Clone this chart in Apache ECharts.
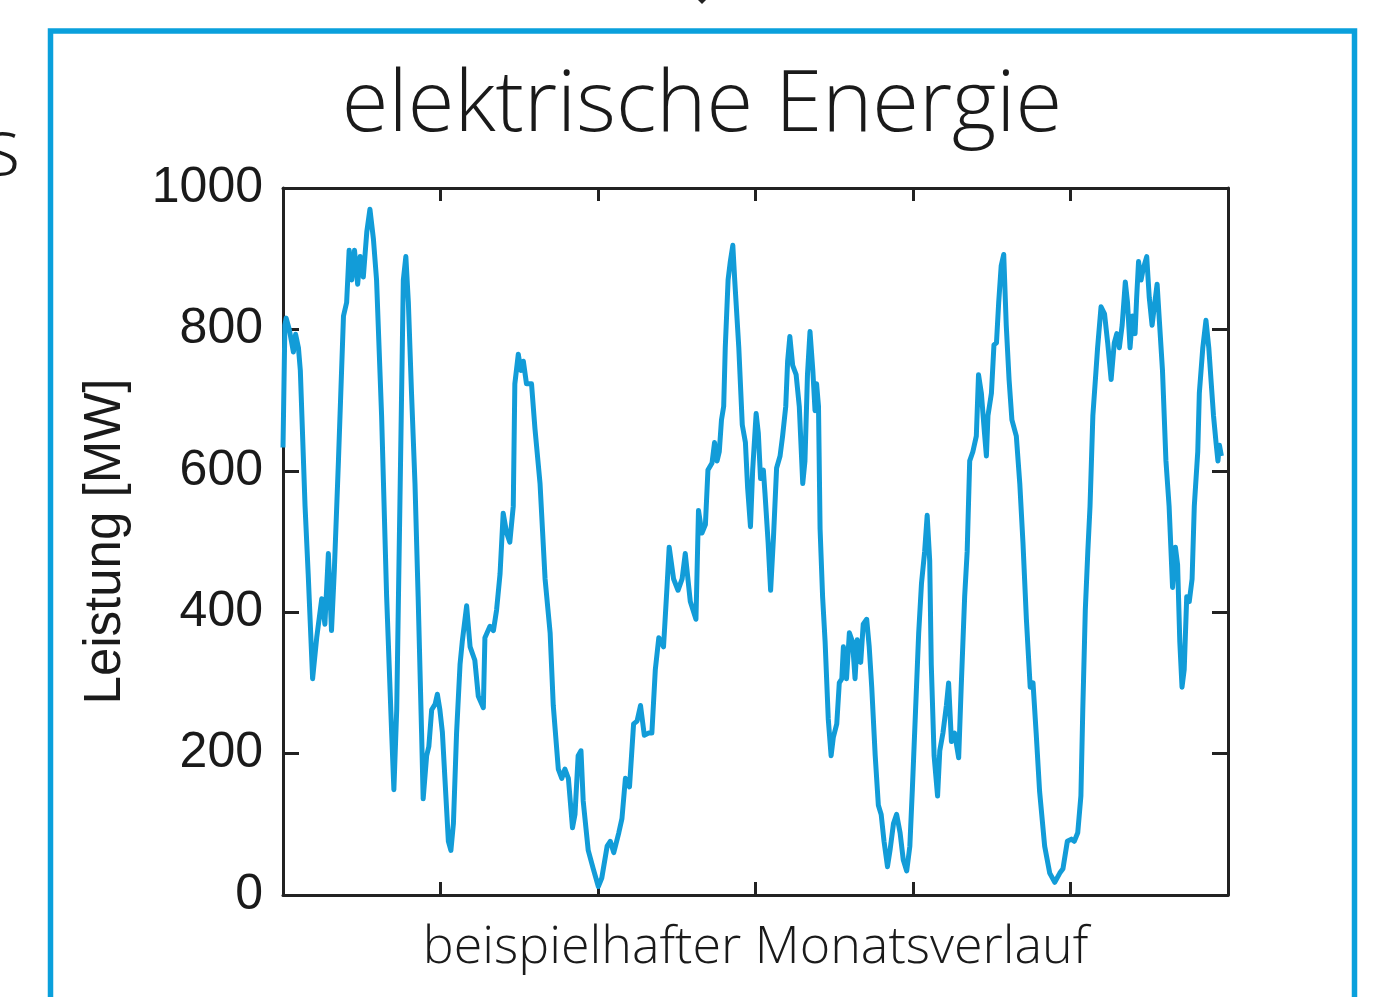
<!DOCTYPE html>
<html>
<head>
<meta charset="utf-8">
<title>elektrische Energie</title>
<script src="https://cdn.jsdelivr.net/npm/echarts@6/dist/echarts.min.js"></script>
<style>
  html, body { margin: 0; padding: 0; background: #ffffff; overflow: hidden; }
  #chart { width: 1382px; height: 997px; }
</style>
</head>
<body>
<div id="chart"></div>
<script>
// Tage im Monat (x) und Leistung in MW (y)
const days = [
  0, 0.06, 0.1, 0.2, 0.33, 0.4, 0.49, 0.55, 0.7, 0.8, 0.94, 1.07, 1.23, 1.33, 1.44, 1.54, 1.63, 1.76, 1.92,
  2.02, 2.1, 2.18, 2.27, 2.37, 2.45, 2.55, 2.66, 2.76, 2.87, 2.97, 3.13, 3.29, 3.45, 3.52, 3.61, 3.71, 3.82,
  3.9, 3.98, 4.08, 4.19, 4.29, 4.4, 4.45, 4.56, 4.63, 4.72, 4.83, 4.9, 4.98, 5.06, 5.14, 5.25, 5.33, 5.41,
  5.51, 5.62, 5.69, 5.83, 5.94, 6.09, 6.2, 6.36, 6.41, 6.57, 6.68, 6.78, 6.89, 6.99, 7.1, 7.2, 7.31, 7.36,
  7.47, 7.55, 7.63, 7.73, 7.89, 8.0, 8.16, 8.32, 8.48, 8.58, 8.74, 8.85, 8.95, 9.06, 9.19, 9.27, 9.37, 9.46,
  9.53, 9.69, 9.85, 10.01, 10.12, 10.29, 10.39, 10.5, 10.66, 10.76, 10.87, 11.0, 11.13, 11.24, 11.35, 11.47,
  11.61, 11.71, 11.82, 11.93, 12.08, 12.19, 12.26, 12.4, 12.54, 12.67, 12.77, 12.93, 13.11, 13.19, 13.3,
  13.41, 13.49, 13.62, 13.7, 13.78, 13.85, 13.92, 13.99, 14.04, 14.13, 14.2, 14.28, 14.34, 14.47, 14.58,
  14.68, 14.75, 14.84, 14.91, 15.02, 15.09, 15.16, 15.25, 15.3, 15.4, 15.48, 15.57, 15.67, 15.78, 15.86,
  15.96, 16.02, 16.09, 16.18, 16.29, 16.39, 16.5, 16.57, 16.65, 16.73, 16.82, 16.89, 16.94, 17.0, 17.05,
  17.13, 17.21, 17.31, 17.4, 17.47, 17.58, 17.66, 17.74, 17.79, 17.89, 17.98, 18.08, 18.16, 18.23, 18.34,
  18.42, 18.53, 18.61, 18.69, 18.8, 18.9, 18.99, 19.08, 19.19, 19.27, 19.38, 19.48, 19.59, 19.69, 19.8,
  19.9, 19.98, 20.08, 20.18, 20.27, 20.37, 20.45, 20.53, 20.58, 20.67, 20.78, 20.85, 20.95, 21.06, 21.13,
  21.22, 21.32, 21.45, 21.53, 21.64, 21.72, 21.8, 21.9, 22.01, 22.08, 22.17, 22.27, 22.33, 22.38, 22.49,
  22.57, 22.65, 22.72, 22.8, 22.88, 22.96, 23.05, 23.14, 23.28, 23.39, 23.49, 23.6, 23.72, 23.81, 23.91,
  24.02, 24.18, 24.34, 24.5, 24.66, 24.76, 24.9, 25.03, 25.12, 25.23, 25.33, 25.39, 25.47, 25.55, 25.62,
  25.71, 25.79, 25.86, 25.97, 26.08, 26.18, 26.29, 26.39, 26.47, 26.55, 26.64, 26.74, 26.81, 26.89, 26.97,
  27.05, 27.1, 27.16, 27.24, 27.31, 27.42, 27.5, 27.59, 27.66, 27.75, 27.82, 27.92, 28.03, 28.13, 28.24,
  28.33, 28.4, 28.47, 28.54, 28.61, 28.69, 28.77, 28.86, 28.93, 29.04, 29.09, 29.2, 29.3, 29.39, 29.46,
  29.54, 29.62, 29.68, 29.73, 29.79
];
const power = [
  633, 806, 816, 800, 768, 793, 774, 742, 550, 454, 306, 364, 419, 383, 483, 374, 460, 614, 819,
  838, 912, 870, 912, 864, 903, 874, 938, 970, 928, 870, 678, 422, 229, 149, 262, 550, 870,
  903, 838, 710, 582, 422, 229, 136, 197, 210, 262, 270, 284, 262, 230, 165, 76, 63, 101,
  229, 326, 358, 409, 351, 332, 281, 265, 364, 380, 374, 403, 454, 540, 512, 499, 550, 723,
  765, 742, 755, 723, 723, 659, 582, 447, 371, 268, 178, 165, 178, 165, 95, 114, 197, 204,
  133, 63, 37, 12, 24, 69, 76, 60, 88, 108, 165, 153, 242, 246, 268, 226,
  229, 229, 319, 364, 351, 435, 492, 447, 431, 447, 483, 415, 390, 544, 512,
  524, 601, 611, 640, 614, 627, 672, 691, 774, 870, 896, 919, 870, 774, 665,
  640, 576, 521, 601, 681, 653, 589, 601, 569, 499, 431, 505, 604, 621, 649,
  691, 755, 790, 749, 736, 691, 582, 614, 736, 797, 742, 685, 723, 691, 518,
  422, 358, 249, 197, 223, 242, 300, 306, 351, 306, 371, 358, 306, 361, 329,
  383, 390, 351, 294, 197, 127, 114, 76, 40, 63, 101, 114, 88, 50, 34,
  69, 150, 260, 370, 441, 486, 537, 473, 326, 197, 140, 204, 229, 268, 300,
  217, 229, 194, 294, 422, 486, 614, 627, 649, 736, 710, 653, 621, 678, 710,
  778, 781, 838, 890, 906, 806, 729, 672, 649, 582, 499, 390, 294, 300, 229,
  146, 69, 31, 18, 31, 37, 76, 79, 76, 88, 140, 262, 403, 486, 550,
  678, 729, 774, 832, 822, 781, 729, 781, 794, 774, 806, 867, 838, 774, 819,
  794, 845, 896, 870, 886, 903, 845, 806, 832, 864, 813, 742, 614, 550, 435,
  492, 467, 358, 294, 319, 422, 415, 447, 550, 627, 710, 774, 813, 774, 729,
  678, 640, 614, 636, 621
];
const xTicks = [0, 5, 10, 15, 20, 25, 30];
const yTicks = [0, 200, 400, 600, 800, 1000];

const lineColor = '#129cd8';
const axisColor = '#222222';
const lightFont = '"Open Sans", Lato, sans-serif';

const seriesData = days.map((d, i) => [d, power[i]]);

const chart = echarts.init(document.getElementById('chart'));

const xAxisBase = {
  type: 'value',
  min: xTicks[0],
  max: xTicks[xTicks.length - 1],
  interval: xTicks[1] - xTicks[0],
  splitLine: { show: false },
  axisLine: { show: true, onZero: false, lineStyle: { color: axisColor, width: 3 } },
  axisTick: { show: true, inside: true, length: 13, lineStyle: { color: axisColor, width: 3 } },
  axisLabel: { show: false }
};
const yAxisBase = {
  type: 'value',
  min: yTicks[0],
  max: yTicks[yTicks.length - 1],
  interval: yTicks[1] - yTicks[0],
  splitLine: { show: false },
  axisLine: { show: true, onZero: false, lineStyle: { color: axisColor, width: 3 } },
  axisTick: { show: true, inside: true, length: 16, lineStyle: { color: axisColor, width: 3 } }
};

chart.setOption({
  backgroundColor: '#ffffff',
  animation: false,
  title: {
    text: 'elektrische Energie',
    left: 702,
    top: 64,
    textAlign: 'center',
    padding: 0,
    textStyle: {
      fontFamily: lightFont,
      fontWeight: 300,
      fontSize: 85,
      color: '#1a1a1a'
    }
  },
  grid: { left: 283, top: 188, right: 154, bottom: 102, containLabel: false },
  xAxis: [
    Object.assign({}, xAxisBase, {
      position: 'bottom',
      name: 'beispielhafter Monatsverlauf',
      nameLocation: 'middle',
      nameGap: 27,
      nameTextStyle: {
        fontFamily: lightFont,
        fontWeight: 300,
        fontSize: 52,
        color: '#1a1a1a'
      }
    }),
    Object.assign({}, xAxisBase, { position: 'top' })
  ],
  yAxis: [
    Object.assign({}, yAxisBase, {
      position: 'left',
      name: 'Leistung [MW]',
      nameLocation: 'middle',
      nameGap: 152,
      nameTextStyle: {
        fontFamily: '"Liberation Sans", Arial, sans-serif',
        fontSize: 51,
        color: '#1a1a1a'
      },
      axisLabel: {
        show: true,
        margin: 20,
        formatter: (v) => String(v),
        fontFamily: '"Liberation Sans", Arial, sans-serif',
        fontSize: 50,
        color: '#1a1a1a'
      }
    }),
    Object.assign({}, yAxisBase, { position: 'right', axisLabel: { show: false } })
  ],
  series: [{
    type: 'line',
    data: seriesData,
    xAxisIndex: 0,
    yAxisIndex: 0,
    showSymbol: false,
    smooth: false,
    lineStyle: { color: lineColor, width: 5, join: 'round' },
    z: 1
  }],
  graphic: [
    {
      type: 'rect',
      silent: true,
      shape: { x: 50.5, y: 31, width: 1304, height: 1100 },
      style: { fill: 'none', stroke: '#0aa0dc', lineWidth: 5.5 }
    },
    {
      type: 'text',
      silent: true,
      style: {
        x: -17, y: 112,
        text: 's',
        fontFamily: lightFont,
        fontWeight: 300,
        fontSize: 80,
        fill: '#1a1a1a'
      }
    },
    {
      type: 'polygon',
      silent: true,
      shape: { points: [[696, -2], [708, -2], [702, 4]] },
      style: { fill: '#222222' }
    }
  ]
});
</script>
</body>
</html>
